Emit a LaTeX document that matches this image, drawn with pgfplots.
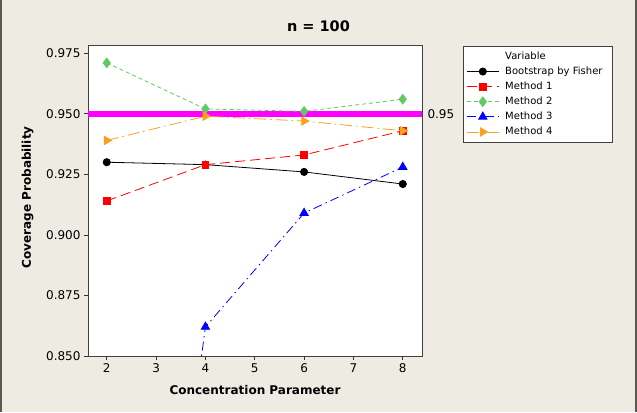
\documentclass[border=0pt]{standalone}
\usepackage{fontspec}
\setmainfont{DejaVu Sans}
\usepackage{pgfplots}
\pgfplotsset{compat=1.18}

\definecolor{bgtan}{RGB}{238,235,226}
\definecolor{framegray}{RGB}{90,90,82}
\definecolor{mgreen}{RGB}{98,200,98}
\definecolor{morange}{RGB}{250,160,30}
\definecolor{mblue}{RGB}{0,0,255}
\definecolor{mred}{RGB}{255,0,0}
\definecolor{refmag}{RGB}{255,0,255}

\begin{document}
\begin{tikzpicture}[x=1bp,y=1bp]
  % page background and side rules
  \fill[bgtan] (0,0) rectangle (637,412);
  \fill[framegray] (0,0) rectangle (2,412);
  \fill[framegray] (635,0) rectangle (637,412);

  \begin{axis}[
    at={(88bp,56bp)}, anchor=south west,
    scale only axis, width=334bp, height=311bp,
    xmin=1.62, xmax=8.39, ymin=0.85, ymax=0.9784,
    xtick={2,3,4,5,6,7,8},
    ytick={0.850,0.875,0.900,0.925,0.950,0.975},
    yticklabel style={/pgf/number format/.cd,fixed,fixed zerofill,precision=3},
    /pgf/number format/assume math mode=true,
    tick align=outside, tick pos=left,
    major tick length=4bp,
    tick style={black!80, line width=0.7bp},
    axis line style={draw=black!75, line width=0.8bp},
    axis background/.style={fill=white},
    tick label style={font=\fontsize{12bp}{14bp}\selectfont},
    label style={font=\bfseries\fontsize{12bp}{14bp}\selectfont},
    xlabel={Concentration Parameter},
    ylabel={Coverage Probability},
    xlabel style={at={(axis description cs:0.5,-0.1254)}, anchor=base},
    ylabel style={at={(axis description cs:-0.181,0.51)}, anchor=center},
    clip marker paths=true,
    legend style={
      at={(axis description cs:1.1228,0.9968)}, anchor=north west,
      draw=black!75, line width=0.8bp, fill=white,
      font=\fontsize{10bp}{12bp}\selectfont,
      inner xsep=3bp, inner ysep=2.5bp, row sep=0pt,
      nodes={inner ysep=2.8bp, inner xsep=6bp, text height=7.5bp,
             text depth=2bp, text width=98bp, align=left},
      cells={anchor=west},
    },
    legend image code/.code={%
      \draw[mark repeat=2, mark phase=2]
        plot coordinates {(0bp,0bp)(16bp,0bp)(32bp,0bp)};},
  ]
    % target coverage level
    \addplot[refmag, line width=6bp, forget plot]
      coordinates {(1.62,0.95) (8.39,0.95)};
    \coordinate (ref95) at (axis cs:8.39,0.95);

    \addlegendimage{empty legend}
    \addlegendentry{Variable}

    \addplot[black, line width=0.8bp, mark=*, mark size=3.6bp,
             mark options={solid}]
      coordinates {(2,0.930) (4,0.929) (6,0.926) (8,0.921)};
    \addlegendentry{Bootstrap by Fisher}

    \addplot[mred, line width=0.8bp, dash pattern=on 10bp off 5bp,
             mark=square*, mark size=3.4bp, mark options={solid}]
      coordinates {(2,0.914) (4,0.929) (6,0.933) (8,0.943)};
    \addlegendentry{Method 1}

    \addplot[mgreen, line width=0.8bp, dash pattern=on 4bp off 3bp,
             mark=diamond*, mark size=4.8bp, mark options={solid}]
      coordinates {(2,0.971) (4,0.952) (6,0.951) (8,0.956)};
    \addlegendentry{Method 2}

    \addplot[mblue, line width=0.8bp,
             dash pattern=on 9bp off 4bp on 1.5bp off 4bp,
             mark=triangle*, mark size=4.8bp, mark options={solid}]
      coordinates {(2,0.557) (4,0.862) (6,0.909) (8,0.928)};
    \addlegendentry{Method 3}

    \addplot[morange, line width=0.8bp,
             dash pattern=on 12bp off 4bp on 1.5bp off 4bp,
             mark=triangle*, mark size=4.8bp,
             mark options={solid, rotate=-90}]
      coordinates {(2,0.939) (4,0.949) (6,0.947) (8,0.943)};
    \addlegendentry{Method 4}
  \end{axis}

  \node[anchor=west, font=\fontsize{12bp}{14bp}\selectfont]
    at ([xshift=2bp]ref95) {0.95};
  \node[anchor=base, font=\bfseries\fontsize{14.5bp}{17bp}\selectfont]
    at (318.5,381) {n = 100};
\end{tikzpicture}
\end{document}
